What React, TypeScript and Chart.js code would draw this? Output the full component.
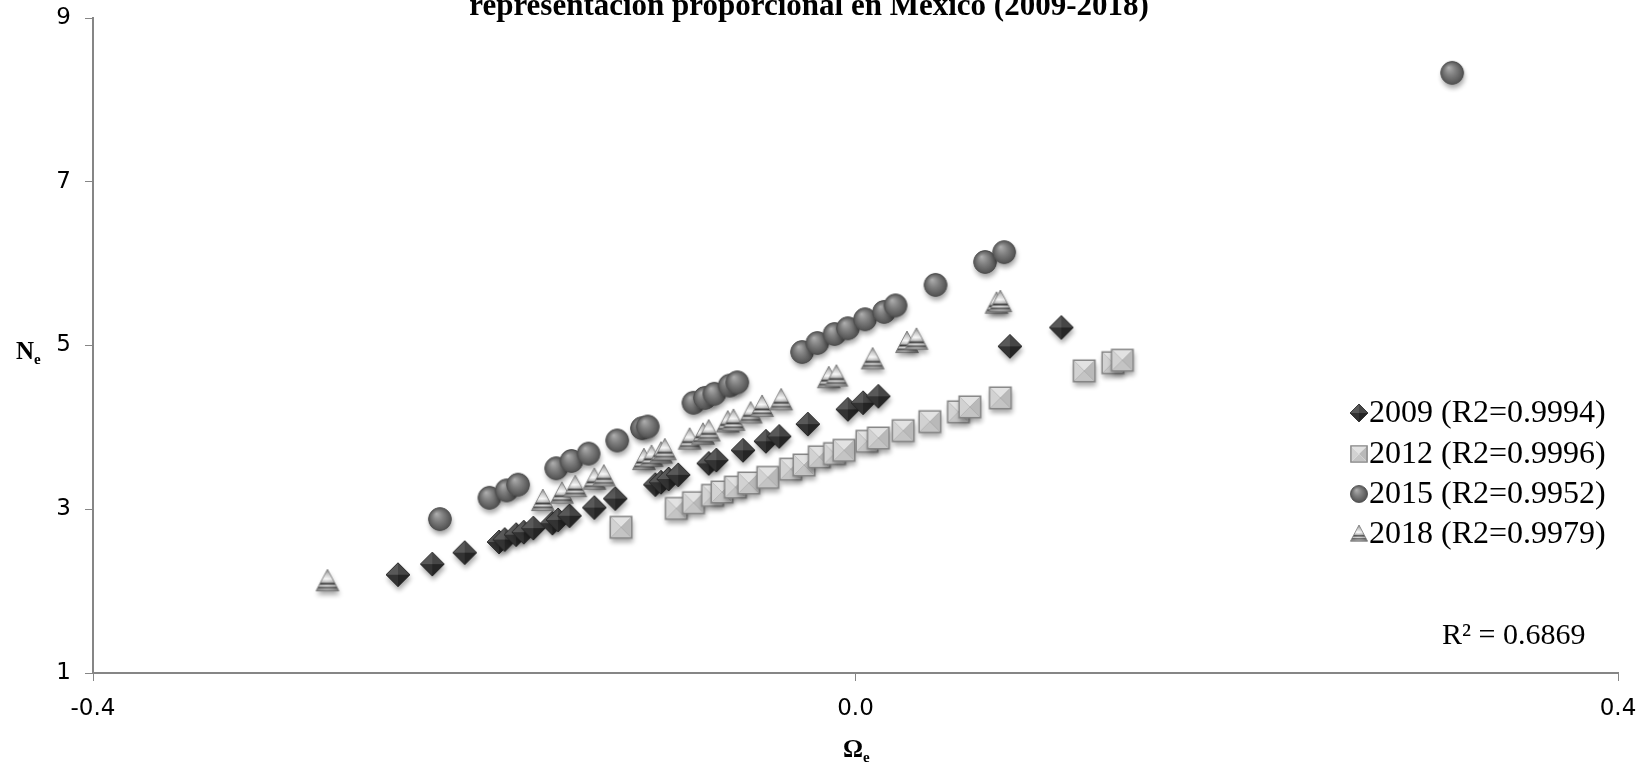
import React, { useEffect, useRef } from 'react';
import { Chart, registerables } from 'chart.js';

Chart.register(...registerables);

// ---------- data ----------
const TITLE_TEXT = 'representación proporcional en México (2009-2018)';
const X_TICKS = [-0.4, 0.0, 0.4];
const Y_TICKS = [1, 3, 5, 7, 9];
const SERIES_LABELS = ['2009 (R2=0.9994)', '2012 (R2=0.9996)', '2015 (R2=0.9952)', '2018 (R2=0.9979)'];
const R2_TEXT = 'R² = 0.6869';

const omega2009 = [-0.240, -0.222, -0.205, -0.187, -0.184, -0.178, -0.174, -0.169, -0.159, -0.156, -0.150, -0.137, -0.126, -0.105, -0.102, -0.098, -0.093, -0.077, -0.073, -0.059, -0.047, -0.040, -0.025, -0.004, 0.004, 0.012, 0.081, 0.108];
const ne2009 = [2.20, 2.33, 2.47, 2.60, 2.63, 2.69, 2.72, 2.77, 2.83, 2.87, 2.92, 3.02, 3.13, 3.30, 3.33, 3.37, 3.42, 3.56, 3.60, 3.72, 3.83, 3.89, 4.04, 4.22, 4.30, 4.38, 4.99, 5.22];

const omega2012 = [-0.123, -0.094, -0.085, -0.075, -0.070, -0.063, -0.056, -0.046, -0.034, -0.027, -0.019, -0.011, -0.006, 0.006, 0.012, 0.025, 0.039, 0.054, 0.060, 0.076, 0.120, 0.135, 0.140];
const ne2012 = [2.78, 3.01, 3.08, 3.17, 3.21, 3.27, 3.32, 3.39, 3.49, 3.54, 3.64, 3.68, 3.72, 3.83, 3.87, 3.96, 4.07, 4.19, 4.25, 4.36, 4.69, 4.79, 4.82];

const omega2015 = [-0.218, -0.192, -0.183, -0.177, -0.157, -0.149, -0.140, -0.125, -0.112, -0.109, -0.085, -0.079, -0.074, -0.066, -0.062, -0.028, -0.020, -0.011, -0.004, 0.005, 0.015, 0.021, 0.042, 0.068, 0.078, 0.313];
const ne2015 = [2.88, 3.14, 3.23, 3.30, 3.50, 3.59, 3.68, 3.84, 3.99, 4.01, 4.30, 4.36, 4.41, 4.51, 4.55, 4.92, 5.03, 5.14, 5.21, 5.32, 5.41, 5.49, 5.74, 6.02, 6.14, 8.33];

const omega2018 = [-0.277, -0.164, -0.154, -0.147, -0.137, -0.132, -0.111, -0.107, -0.102, -0.100, -0.087, -0.080, -0.077, -0.067, -0.064, -0.055, -0.049, -0.039, -0.014, -0.010, 0.009, 0.027, 0.032, 0.074, 0.076];
const ne2018 = [2.12, 3.10, 3.19, 3.27, 3.36, 3.40, 3.60, 3.64, 3.68, 3.72, 3.85, 3.91, 3.95, 4.06, 4.08, 4.17, 4.25, 4.33, 4.60, 4.62, 4.83, 5.03, 5.07, 5.51, 5.53];

const SERIES_X = [omega2009, omega2012, omega2015, omega2018];
const SERIES_Y = [ne2009, ne2012, ne2015, ne2018];
const SERIES_KIND = ['diamond', 'square', 'circle', 'triangle'];

// ---------- marker images ----------
function makeMarker(kind: string, size: number, shadow: boolean): HTMLCanvasElement {
  const pad = Math.ceil(size * 0.4) + 4;
  const W = size + pad * 2;
  const c = document.createElement('canvas');
  c.width = W;
  c.height = W;
  const ctx = c.getContext('2d')!;
  const cx = W / 2;
  const cy = W / 2;
  const r = size / 2;

  const outline = () => {
    ctx.beginPath();
    if (kind === 'diamond') {
      ctx.moveTo(cx, cy - r); ctx.lineTo(cx + r, cy); ctx.lineTo(cx, cy + r); ctx.lineTo(cx - r, cy); ctx.closePath();
    } else if (kind === 'square') {
      const s = r * 0.9;
      ctx.rect(cx - s, cy - s, 2 * s, 2 * s);
    } else if (kind === 'circle') {
      ctx.arc(cx, cy, r * 0.95, 0, Math.PI * 2);
    } else {
      ctx.moveTo(cx, cy - r); ctx.lineTo(cx + r * 0.95, cy + r * 0.8); ctx.lineTo(cx - r * 0.95, cy + r * 0.8); ctx.closePath();
    }
  };

  if (shadow) {
    ctx.save();
    ctx.shadowColor = 'rgba(0,0,0,0.35)';
    ctx.shadowBlur = 5;
    ctx.shadowOffsetX = 1;
    ctx.shadowOffsetY = 4;
    outline();
    ctx.fillStyle = '#777';
    ctx.fill();
    ctx.restore();
  }

  const tri = (ax: number, ay: number, bx: number, by: number, col: string) => {
    ctx.beginPath();
    ctx.moveTo(cx, cy); ctx.lineTo(ax, ay); ctx.lineTo(bx, by); ctx.closePath();
    ctx.fillStyle = col; ctx.fill();
  };

  if (kind === 'diamond') {
    tri(cx - r, cy, cx, cy - r, '#595959');
    tri(cx, cy - r, cx + r, cy, '#464646');
    tri(cx + r, cy, cx, cy + r, '#252525');
    tri(cx, cy + r, cx - r, cy, '#333333');
    outline();
    ctx.strokeStyle = '#1e1e1e'; ctx.lineWidth = 0.8; ctx.stroke();
  } else if (kind === 'square') {
    const s = r * 0.9;
    tri(cx - s, cy - s, cx + s, cy - s, '#e2e2e2');
    tri(cx + s, cy - s, cx + s, cy + s, '#b9b9b9');
    tri(cx + s, cy + s, cx - s, cy + s, '#c4c4c4');
    tri(cx - s, cy + s, cx - s, cy - s, '#d2d2d2');
    outline();
    ctx.strokeStyle = '#858585'; ctx.lineWidth = 1.4; ctx.stroke();
  } else if (kind === 'circle') {
    const g = ctx.createRadialGradient(cx - r * 0.3, cy - r * 0.45, 0, cx, cy, r);
    g.addColorStop(0, '#b0b0b0');
    g.addColorStop(0.45, '#808080');
    g.addColorStop(1, '#4e4e4e');
    outline();
    ctx.fillStyle = g; ctx.fill();
    ctx.strokeStyle = '#4a4a4a'; ctx.lineWidth = 0.8; ctx.stroke();
  } else {
    const top = cy - r;
    const bot = cy + r * 0.8;
    const g = ctx.createLinearGradient(0, top, 0, bot);
    g.addColorStop(0, '#6e6e6e');
    g.addColorStop(0.22, '#c4c4c4');
    g.addColorStop(0.45, '#fafafa');
    g.addColorStop(0.58, '#c0c0c0');
    g.addColorStop(0.67, '#2e2e2e');
    g.addColorStop(0.76, '#dedede');
    g.addColorStop(0.85, '#4a4a4a');
    g.addColorStop(0.93, '#b0b0b0');
    g.addColorStop(1, '#666666');
    outline();
    ctx.fillStyle = g; ctx.fill();
    const h = ctx.createLinearGradient(cx - r, 0, cx + r, 0);
    h.addColorStop(0, 'rgba(0,0,0,0.15)');
    h.addColorStop(0.45, 'rgba(255,255,255,0.1)');
    h.addColorStop(1, 'rgba(0,0,0,0.3)');
    outline();
    ctx.fillStyle = h; ctx.fill();
    ctx.strokeStyle = '#7a7a7a'; ctx.lineWidth = 0.8; ctx.stroke();
  }
  return c;
}

// target plot area (canvas pixels)
const AREA = { left: 93, right: 1618, top: 18, bottom: 673 };

export default function App() {
  const ref = useRef<HTMLCanvasElement>(null);

  useEffect(() => {
    const canvas = ref.current;
    if (!canvas) return;

    const plotMarkers = SERIES_KIND.map((k) => makeMarker(k, 24, true));
    const legendMarkers = SERIES_KIND.map((k) => makeMarker(k, 18, false));

    const datasets = SERIES_X.map((xs, i) => ({
      label: SERIES_LABELS[i],
      data: xs.map((x, j) => ({ x, y: SERIES_Y[i][j] })),
      pointStyle: plotMarkers[i] as any,
      pointRadius: 12,
      pointHoverRadius: 12,
      showLine: false,
      order: 3 - i,
    }));

    const fitState = { xHeight: 764 - AREA.bottom, yWidth: AREA.left };

    const overlay = {
      id: 'overlay',
      afterDraw(chart: any) {
        const ctx = chart.ctx as CanvasRenderingContext2D;
        ctx.save();
        ctx.fillStyle = '#000';
        // title (its first line lies outside the picture)
        ctx.font = 'bold 31px "Liberation Serif"';
        ctx.textAlign = 'center';
        ctx.textBaseline = 'alphabetic';
        ctx.fillText(TITLE_TEXT, 809, 15);

        // legend
        ctx.font = '32px "Liberation Serif"';
        ctx.textAlign = 'left';
        ctx.textBaseline = 'middle';
        const rows = [413, 454, 494, 534];
        rows.forEach((yy, i) => {
          const m = legendMarkers[i];
          ctx.drawImage(m, 1359 - m.width / 2, yy - m.height / 2);
          ctx.fillText(SERIES_LABELS[i], 1369, yy + 1);
        });

        // R² text
        ctx.font = '30px "Liberation Serif"';
        ctx.fillText(R2_TEXT, 1442, 636);

        // y axis title N_e
        ctx.textBaseline = 'alphabetic';
        ctx.font = 'bold 25px "Liberation Serif"';
        ctx.fillText('N', 16, 359);
        const nw = ctx.measureText('N').width;
        ctx.font = 'bold 15px "Liberation Serif"';
        ctx.fillText('e', 16 + nw, 364);

        // x axis title Ω_e
        ctx.font = 'bold 25px "Liberation Serif"';
        const ow = ctx.measureText('Ω').width;
        ctx.fillText('Ω', 843, 757);
        ctx.font = 'bold 15px "Liberation Serif"';
        ctx.fillText('e', 843 + ow, 762);
        ctx.restore();
      },
    };

    const tickFont = { family: '"DejaVu Sans"', size: 23 };

    const chart = new Chart(canvas, {
      type: 'scatter',
      data: { datasets },
      options: {
        responsive: false,
        maintainAspectRatio: false,
        devicePixelRatio: 1,
        animation: false,
        layout: { padding: { left: 0, right: 1651 - AREA.right, top: AREA.top, bottom: 0 } },
        plugins: {
          legend: { display: false },
          tooltip: { enabled: false },
          title: { display: false },
        },
        scales: {
          x: {
            type: 'linear',
            min: -0.4,
            max: 0.4,
            afterBuildTicks: (s: any) => {
              s.ticks = X_TICKS.map((v) => ({ value: v }));
            },
            afterFit: (s: any) => {
              s.height = fitState.xHeight;
              s.paddingLeft = 0;
              s.paddingRight = 0;
            },
            ticks: {
              callback: (v: any) => Number(v).toFixed(1),
              font: tickFont,
              color: '#000',
              padding: 14,
              maxRotation: 0,
              autoSkip: false,
            },
            grid: {
              display: true,
              drawOnChartArea: false,
              drawTicks: true,
              tickLength: 8,
              color: '#868686',
              lineWidth: 1,
            },
            border: { display: true, color: '#868686', width: 2 },
          },
          y: {
            type: 'linear',
            min: 1,
            max: 9,
            afterBuildTicks: (s: any) => {
              s.ticks = Y_TICKS.map((v) => ({ value: v }));
            },
            afterFit: (s: any) => {
              s.width = fitState.yWidth;
              s.paddingTop = 0;
              s.paddingBottom = 0;
            },
            ticks: {
              callback: (v: any) => String(v),
              font: tickFont,
              color: '#000',
              padding: 14,
              autoSkip: false,
            },
            grid: {
              display: true,
              drawOnChartArea: false,
              drawTicks: true,
              tickLength: 8,
              color: '#868686',
              lineWidth: 1,
            },
            border: { display: true, color: '#868686', width: 2 },
          },
        },
      } as any,
      plugins: [overlay],
    });

    // make sure the plot area lands exactly where the reference has it
    for (let k = 0; k < 2; k++) {
      const ca = chart.chartArea;
      const opts: any = chart.options;
      const pad = opts.layout.padding;
      let changed = false;
      if (Math.abs(ca.top - AREA.top) > 0.5) { pad.top = pad.top - (ca.top - AREA.top); changed = true; }
      if (Math.abs(ca.bottom - AREA.bottom) > 0.5) { fitState.xHeight += ca.bottom - AREA.bottom; changed = true; }
      if (Math.abs(ca.left - AREA.left) > 0.5) { fitState.yWidth -= ca.left - AREA.left; changed = true; }
      if (Math.abs(ca.right - AREA.right) > 0.5) { pad.right = pad.right + (ca.right - AREA.right); changed = true; }
      if (!changed) break;
      chart.update();
    }

    return () => {
      chart.destroy();
    };
  }, []);

  return (
    <div style={{ position: 'absolute', left: 0, top: 0, width: 1651, height: 764, background: '#fff' }}>
      <canvas ref={ref} width={1651} height={764} style={{ display: 'block', width: 1651, height: 764 }} />
    </div>
  );
}
